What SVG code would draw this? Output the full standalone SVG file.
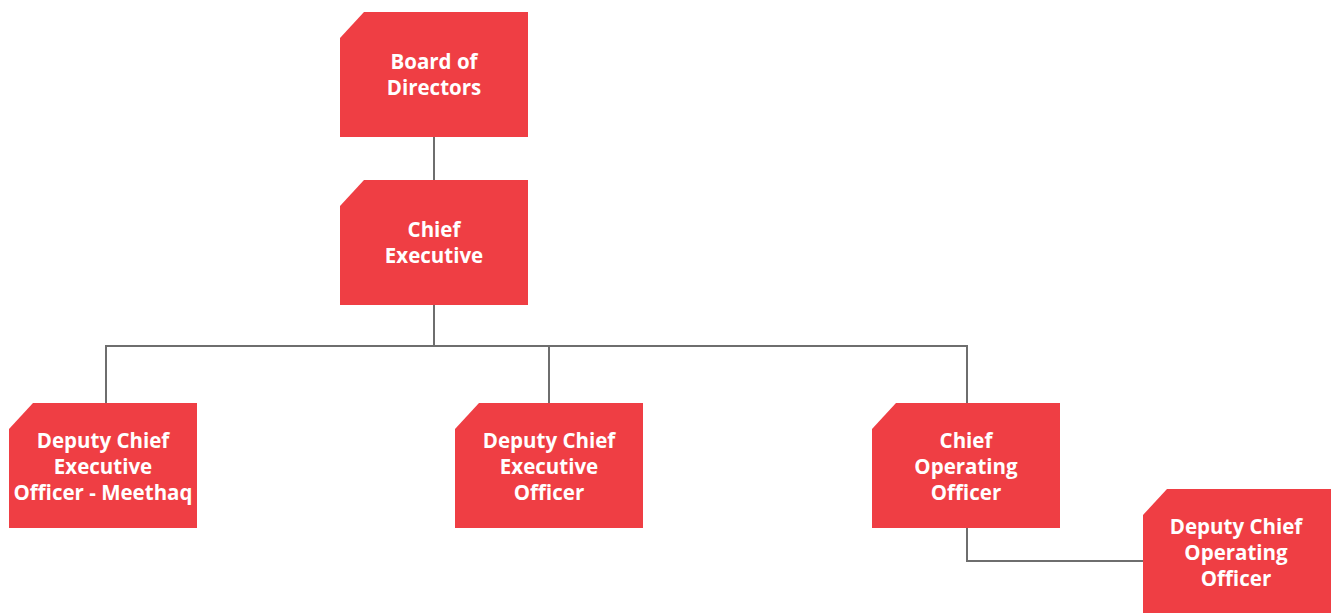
<svg xmlns="http://www.w3.org/2000/svg" width="1335" height="613" viewBox="0 0 1335 613">
  <defs>
    <style>
      .box { fill: #EF3E44; }
      .lbl { font-family: "Open Sans", "Liberation Sans", sans-serif; font-weight: 700; font-size: 20.5px; fill: #FFFFFF; text-anchor: middle; }
      .wire { fill: none; stroke: #6E6E6E; stroke-width: 2; }
    </style>
    <!-- card shape with clipped top-left corner, 188 x 125 -->
    <path id="card" d="M24,0 H188 V125 H0 V26 Z"/>
  </defs>
  <rect width="1335" height="613" fill="#FFFFFF"/>

  <g id="connectors">
    <path class="wire" d="M434,137 V180"/>
    <path class="wire" d="M434,305 V346"/>
    <path class="wire" d="M106,403 V346 H967 V403"/>
    <path class="wire" d="M549,346 V403"/>
    <path class="wire" d="M967,528 V561 H1143"/>
  </g>

  <g id="board">
    <use href="#card" class="box" x="340" y="12"/>
    <text class="lbl" x="434" y="69">Board of</text>
    <text class="lbl" x="434" y="95">Directors</text>
  </g>

  <g id="chief-executive">
    <use href="#card" class="box" x="340" y="180"/>
    <text class="lbl" x="434" y="237">Chief</text>
    <text class="lbl" x="434" y="263">Executive</text>
  </g>

  <g id="deputy-ceo-meethaq">
    <use href="#card" class="box" x="9" y="403"/>
    <text class="lbl" x="103" y="448">Deputy Chief</text>
    <text class="lbl" x="103" y="474">Executive</text>
    <text class="lbl" x="103" y="500">Officer - Meethaq</text>
  </g>

  <g id="deputy-ceo">
    <use href="#card" class="box" x="455" y="403"/>
    <text class="lbl" x="549" y="448">Deputy Chief</text>
    <text class="lbl" x="549" y="474">Executive</text>
    <text class="lbl" x="549" y="500">Officer</text>
  </g>

  <g id="coo">
    <use href="#card" class="box" x="872" y="403"/>
    <text class="lbl" x="966" y="448">Chief</text>
    <text class="lbl" x="966" y="474">Operating</text>
    <text class="lbl" x="966" y="500">Officer</text>
  </g>

  <g id="deputy-coo">
    <use href="#card" class="box" x="1143" y="489"/>
    <text class="lbl" x="1236" y="534">Deputy Chief</text>
    <text class="lbl" x="1236" y="560">Operating</text>
    <text class="lbl" x="1236" y="586">Officer</text>
  </g>
</svg>
